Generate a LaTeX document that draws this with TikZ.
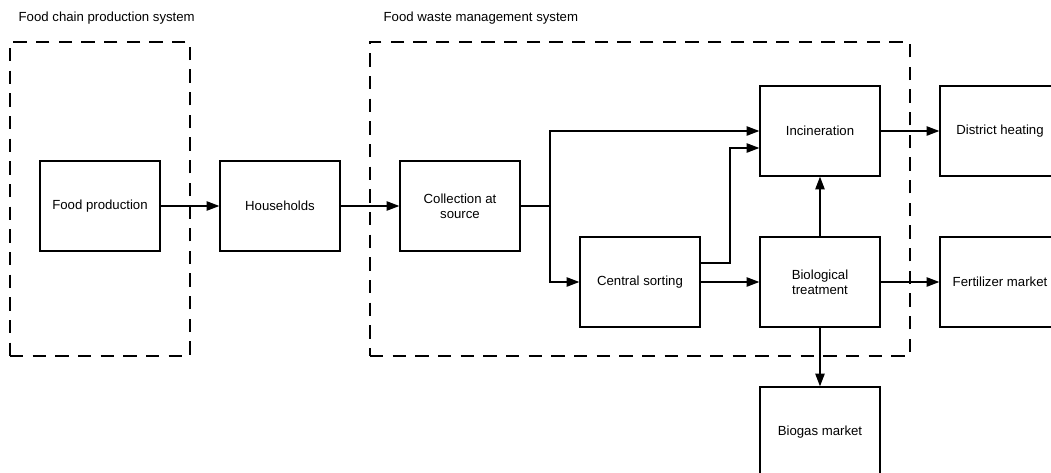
\documentclass[tikz,border=0pt]{standalone}
\usepackage{fontspec}
\setmainfont{Liberation Sans}
\usepackage{tikz}
\usetikzlibrary{arrows.meta,positioning}

\begin{document}
\begin{tikzpicture}[x=0.75pt, y=-0.75pt, font=\fontsize{9.9}{11.5}\selectfont,
    >={Triangle[length=9.5pt,width=7pt]}, line width=1pt]
            \tikzstyle{block} = [draw, rectangle, minimum width=90pt, minimum height=67.5pt, align=center]
            \tikzstyle{system} = [draw, dash pattern=on 10pt off 7pt, rectangle, minimum height=235.5pt]
            \tikzstyle{caption} = [anchor=west, inner sep=0pt]

            \useasboundingbox (0,0) rectangle (1051,472);
            \clip (0,0) rectangle (1051,472);

            \node [system, minimum width=135pt] (chainsys) at (100,199) {};
            \node [system, minimum width=405pt] (wastesys) at (640,199) {};
            \node [caption] (chainlabel) at (18,18) {Food chain production system};
            \node [caption] (wastelabel) at (383,18) {Food waste management system};

            \node [block] (food) at (100,206) {Food production};
            \node [block, right = 44pt of food] (house) {Households};
            \node [block, right = 44pt of house] (collect) {Collection at\\source};
            \node [block, right = 44pt of collect, yshift=-57pt] (sort) {Central sorting};
            \node [block, right = 44pt of sort] (bio) {Biological\\treatment};
            \node [block, above = 44.75pt of bio] (incin) {Incineration};
            \node [block, right = 44pt of incin] (heat) {District heating};
            \node [block, right = 44pt of bio] (fert) {Fertilizer market};
            \node [block, below = 44pt of bio] (biogas) {Biogas market};
            \coordinate [right = 22pt of collect] (split);

            \draw [->] (food) -- (house);
            \draw [->] (house) -- (collect);
            \draw (collect) -- (split);
            \draw [->] (split) |- (incin);
            \draw [->] (split) |- (sort);
            \draw [->] ([yshift=14.25pt]sort.east) -- ++(22pt,0) |- ([yshift=-12.75pt]incin.west);
            \draw [->] (sort) -- (bio);
            \draw [->] (bio) -- (incin);
            \draw [->] (incin) -- (heat);
            \draw [->] (bio) -- (fert);
            \draw [->] (bio) -- (biogas);
\end{tikzpicture}
\end{document}
